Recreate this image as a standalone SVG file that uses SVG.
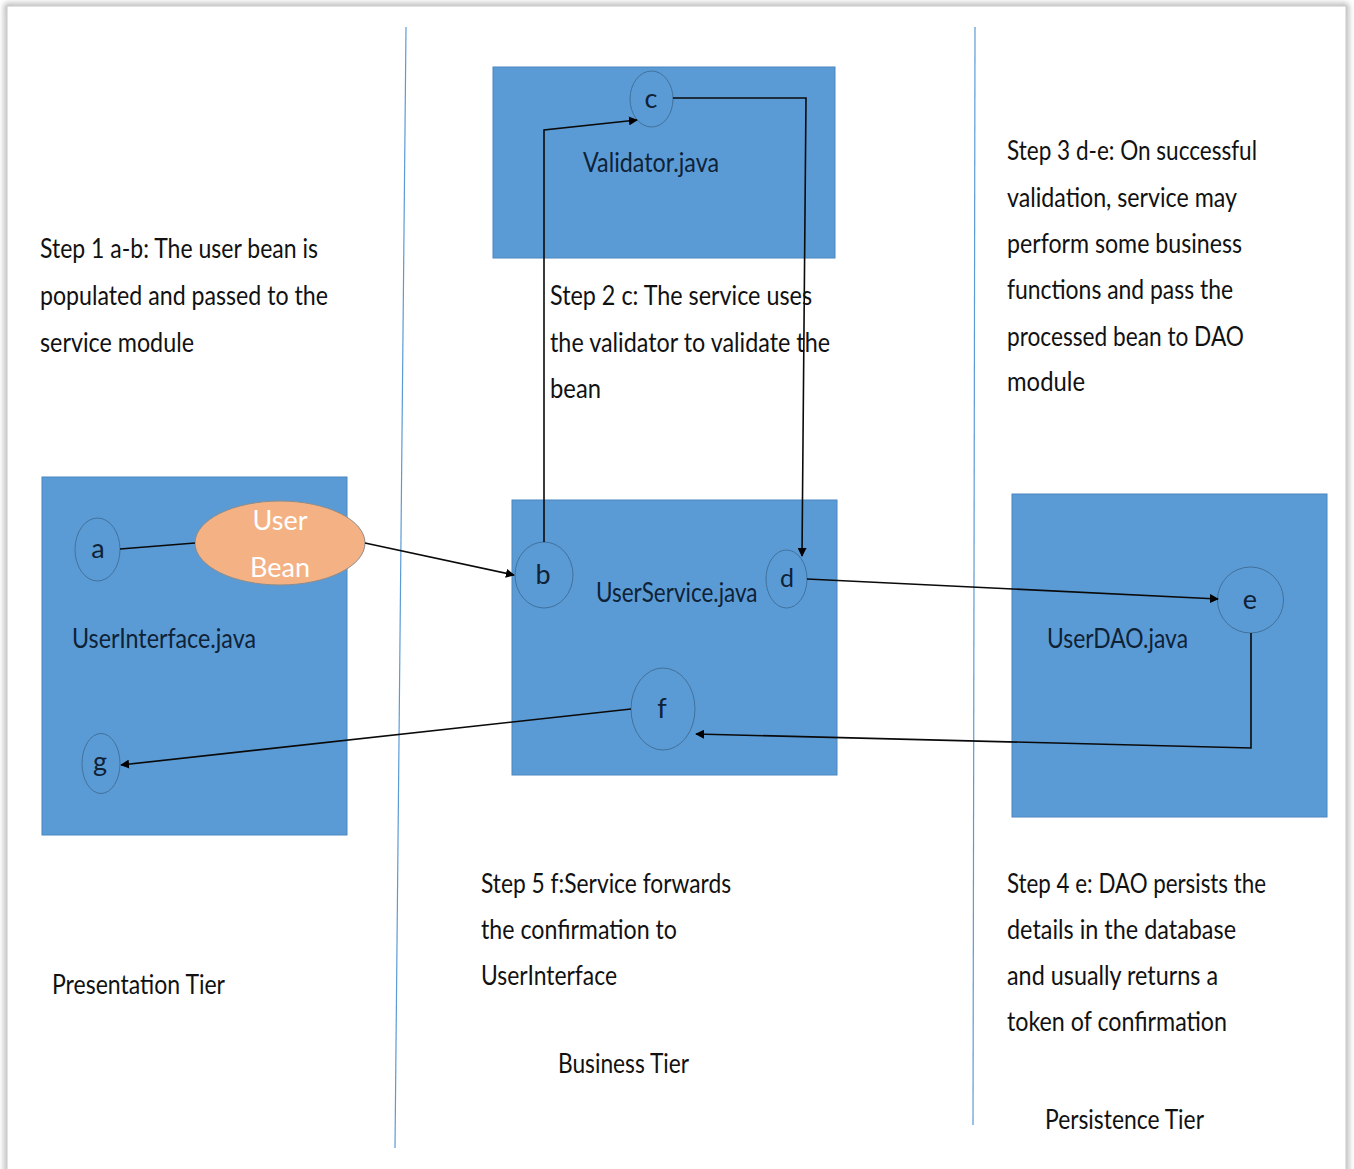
<svg xmlns="http://www.w3.org/2000/svg" width="1354" height="1169" viewBox="0 0 1354 1169">
<defs>
<marker id="arr" viewBox="0 0 10 10" refX="9" refY="5" markerWidth="9" markerHeight="9" markerUnits="userSpaceOnUse" orient="auto"><path d="M0,0 L10,5 L0,10 z" fill="#000"/></marker>
<filter id="sh" x="-2%" y="-2%" width="104%" height="104%"><feGaussianBlur stdDeviation="3"/></filter>
</defs>
<style>
text{font-family:Lato,"Open Sans","Liberation Sans",sans-serif;font-size:27px;fill:#111}
.box{fill:#5B9BD5;stroke:#4A86BF;stroke-width:1}
.circ{fill:#5B9BD5;stroke:#41719C;stroke-width:1}
.lbl{fill:#0f2236}
.ltr{text-anchor:middle;fill:#0f2236}
.conn{fill:none;stroke:#0a0a0a;stroke-width:1.6}
.div{stroke:#5B9BD5;stroke-width:1.2}
</style>
<rect width="1354" height="1169" fill="#ffffff"/>
<rect x="7" y="6" width="1339" height="1175" fill="none" stroke="#9a9a9a" stroke-width="4" filter="url(#sh)"/>
<rect x="7" y="6" width="1339" height="1175" fill="#ffffff" stroke="#c8c8c8" stroke-width="1"/>

<g id="dividers">
<line class="div" x1="406" y1="27" x2="395" y2="1148"/>
<line class="div" x1="975" y1="27" x2="973" y2="1125"/>
</g>

<g id="node-validator">
<rect class="box" x="493" y="67" width="342" height="191"/>
<text class="lbl" x="583" y="172" textLength="136" lengthAdjust="spacingAndGlyphs">Validator.java</text>
</g>
<g id="node-userinterface">
<rect class="box" x="42" y="477" width="305" height="358"/>
<text class="lbl" x="72" y="648" textLength="184" lengthAdjust="spacingAndGlyphs">UserInterface.java</text>
</g>
<g id="node-userservice">
<rect class="box" x="512" y="500" width="325" height="275"/>
<text class="lbl" transform="translate(596 602) scale(0.85 1)" x="0" y="0" textLength="190" lengthAdjust="spacingAndGlyphs">UserService.java</text>
</g>
<g id="node-userdao">
<rect class="box" x="1012" y="494" width="315" height="323"/>
<text class="lbl" x="1047" y="648" textLength="141" lengthAdjust="spacingAndGlyphs">UserDAO.java</text>
</g>

<g id="node-a"><ellipse class="circ" cx="97.5" cy="549.5" rx="22.5" ry="31.5"/><text class="ltr" x="98" y="558">a</text></g>
<g id="node-userbean"><ellipse cx="280" cy="543" rx="85" ry="42" fill="#F4B183" stroke="#8c8c8c" stroke-width="1"/>
<text x="280" y="530" style="text-anchor:middle;fill:#ffffff">User</text>
<text x="280" y="577" style="text-anchor:middle;fill:#ffffff">Bean</text></g>
<g id="node-c"><ellipse class="circ" cx="651.5" cy="99" rx="21.5" ry="28"/><text class="ltr" x="651" y="108">c</text></g>
<g id="node-b"><ellipse class="circ" cx="544" cy="575" rx="29" ry="33"/><text class="ltr" x="543" y="584">b</text></g>
<g id="node-d"><ellipse class="circ" cx="786.5" cy="579" rx="20.5" ry="29"/><text class="ltr" x="787" y="587" style="font-size:25px">d</text></g>
<g id="node-e"><ellipse class="circ" cx="1250.5" cy="600" rx="33" ry="33"/><text class="ltr" x="1250" y="609">e</text></g>
<g id="node-f"><ellipse class="circ" cx="663" cy="709" rx="32" ry="41"/><text class="ltr" x="662" y="718">f</text></g>
<g id="node-g"><ellipse class="circ" cx="101" cy="763.5" rx="19" ry="30"/><text class="ltr" x="100" y="771">g</text></g>

<g id="connectors">
<line class="conn" x1="120" y1="549" x2="195" y2="543"/>
<line class="conn" x1="365" y1="543" x2="514" y2="575" marker-end="url(#arr)"/>
<polyline class="conn" points="544,542 544,130 637,120" marker-end="url(#arr)"/>
<polyline class="conn" points="673,98 806,98 802,556" marker-end="url(#arr)"/>
<line class="conn" x1="807" y1="579" x2="1218" y2="599" marker-end="url(#arr)"/>
<polyline class="conn" points="1251,633 1251,748 696,734" marker-end="url(#arr)"/>
<line class="conn" x1="631" y1="709" x2="121" y2="765" marker-end="url(#arr)"/>
</g>

<g id="notes">
<text x="40" y="258" textLength="278" lengthAdjust="spacingAndGlyphs">Step 1 a-b: The user bean is</text>
<text x="40" y="305" textLength="288" lengthAdjust="spacingAndGlyphs">populated and passed to the</text>
<text x="40" y="352" textLength="154" lengthAdjust="spacingAndGlyphs">service module</text>

<text x="550" y="305" textLength="262" lengthAdjust="spacingAndGlyphs">Step 2 c:  The service uses</text>
<text x="550" y="352" textLength="280" lengthAdjust="spacingAndGlyphs">the validator to validate the</text>
<text x="550" y="398" textLength="51" lengthAdjust="spacingAndGlyphs">bean</text>

<text x="1007" y="160" textLength="250" lengthAdjust="spacingAndGlyphs">Step 3 d-e: On successful</text>
<text x="1007" y="207" textLength="230" lengthAdjust="spacingAndGlyphs">validation, service may</text>
<text x="1007" y="253" textLength="235" lengthAdjust="spacingAndGlyphs">perform some business</text>
<text x="1007" y="299" textLength="226" lengthAdjust="spacingAndGlyphs">functions and pass the</text>
<text x="1007" y="346" textLength="237" lengthAdjust="spacingAndGlyphs">processed bean to DAO</text>
<text x="1007" y="391" textLength="78" lengthAdjust="spacingAndGlyphs">module</text>

<text x="481" y="893" textLength="250" lengthAdjust="spacingAndGlyphs">Step 5 f:Service forwards</text>
<text x="481" y="939" textLength="196" lengthAdjust="spacingAndGlyphs">the confirmation to</text>
<text x="481" y="985" textLength="136" lengthAdjust="spacingAndGlyphs">UserInterface</text>

<text x="1007" y="893" textLength="259" lengthAdjust="spacingAndGlyphs">Step 4 e: DAO persists the</text>
<text x="1007" y="939" textLength="229" lengthAdjust="spacingAndGlyphs">details in the database</text>
<text x="1007" y="985" textLength="211" lengthAdjust="spacingAndGlyphs">and usually returns a</text>
<text x="1007" y="1031" textLength="220" lengthAdjust="spacingAndGlyphs">token of confirmation</text>

<text x="52" y="994" textLength="173" lengthAdjust="spacingAndGlyphs">Presentation Tier</text>
<text x="558" y="1073" textLength="131" lengthAdjust="spacingAndGlyphs">Business Tier</text>
<text x="1045" y="1129" textLength="159" lengthAdjust="spacingAndGlyphs">Persistence Tier</text>
</g>
</svg>
